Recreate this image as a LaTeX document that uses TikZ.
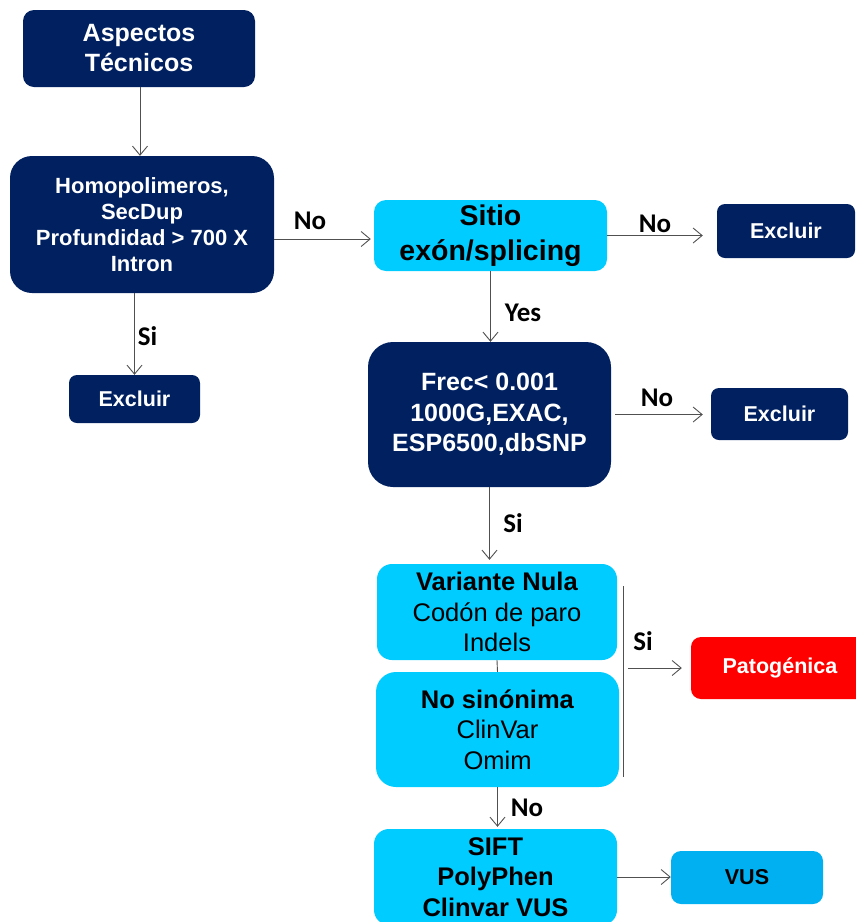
\documentclass[tikz,border=0pt]{standalone}
\usepackage{fontspec}
\setmainfont{Liberation Sans}
\newfontfamily\lblfont{Carlito}
\usetikzlibrary{arrows.meta}
\definecolor{navy}{HTML}{002060}
\definecolor{cyanbox}{HTML}{00CCFF}
\definecolor{vusblue}{HTML}{00B0F0}
\definecolor{redbox}{HTML}{FF0000}
\definecolor{linegray}{HTML}{505050}
\tikzset{
  box/.style={draw=none, inner sep=0pt, align=center, font=\bfseries},
  navybox/.style={box, fill=navy, text=white},
  cyanb/.style={box, fill=cyanbox, text=black},
  arr/.style={draw=linegray, line width=0.9pt, -{Straight Barb[length=9pt,width=15pt,line width=0.9pt]}},
  plain/.style={draw=linegray, line width=0.9pt},
  lbl/.style={inner sep=0pt, font=\lblfont\bfseries\fontsize{27}{30}\selectfont, text=black}
}
\begin{document}
\begin{tikzpicture}[x=1pt,y=-1pt]
\useasboundingbox (0,0) rectangle (856,922);
\begin{scope}
\clip (0,0) rectangle (856,922);
\node[navybox, minimum width=232pt, minimum height=77pt, rounded corners=11pt, font=\bfseries\fontsize{25}{30}\selectfont] (asp) at (139,48.5) {Aspectos\\Técnicos};
\node[navybox, minimum width=264pt, minimum height=137pt, rounded corners=22pt, font=\bfseries\fontsize{22}{26}\selectfont] (homo) at (142,224.5) {Homopolimeros,\\SecDup\\Profundidad > 700 X\\Intron};
\node[cyanb, minimum width=233pt, minimum height=71pt, rounded corners=12pt, font=\bfseries\fontsize{28.5}{34.5}\selectfont] (sitio) at (490.5,235.5) {Sitio\\exón/splicing};
\node[navybox, minimum width=138pt, minimum height=54pt, rounded corners=8pt, font=\bfseries\fontsize{21.5}{24}\selectfont] (ex1) at (786,231) {Excluir};
\node[navybox, minimum width=243pt, minimum height=145pt, rounded corners=25pt, font=\bfseries\fontsize{25}{30.5}\selectfont] (frec) at (489.5,414.5) {Frec< 0.001\\1000G,EXAC,\\ESP6500,dbSNP};
\node[navybox, minimum width=137pt, minimum height=52pt, rounded corners=8pt, font=\bfseries\fontsize{21.5}{24}\selectfont] (ex2) at (779.5,414) {Excluir};
\node[navybox, minimum width=131pt, minimum height=48pt, rounded corners=8pt, font=\bfseries\fontsize{21.5}{24}\selectfont] (ex3) at (134.5,399) {Excluir};
\node[cyanb, minimum width=240pt, minimum height=96pt, rounded corners=15pt, font=\fontsize{25.5}{30.5}\selectfont] (var) at (497,612) {\textbf{Variante Nula}\\Codón de paro\\Indels};
\node[cyanb, minimum width=243pt, minimum height=115pt, rounded corners=20pt, font=\fontsize{25.5}{30.5}\selectfont] (nosin) at (497.5,729.5) {\textbf{No sinónima}\\ClinVar\\Omim};
\node[cyanb, minimum width=243pt, minimum height=96pt, rounded corners=15pt, font=\bfseries\fontsize{25.5}{30.5}\selectfont] (sift) at (495.5,877) {SIFT\\PolyPhen\\Clinvar VUS};
\node[box, fill=redbox, text=white, minimum width=178pt, minimum height=62pt, rounded corners=10pt, font=\bfseries\fontsize{21.5}{24}\selectfont] (pat) at (780,668) {Patogénica};
\node[box, fill=vusblue, text=black, minimum width=152pt, minimum height=53pt, rounded corners=10pt, font=\bfseries\fontsize{21.5}{24}\selectfont] (vus) at (747,877.5) {VUS};
\end{scope}
% connectors
\draw[arr] (asp.south -| 140,0) -- (140,0 |- homo.north);
\draw[arr, shorten >=3pt] ([yshift=-14.5pt]homo.east) -- ([yshift=-14.5pt]homo.east -| sitio.west);
\draw[arr, shorten >=14pt] (sitio.east) -- (sitio.east -| ex1.west);
\draw[arr] (sitio.south) -- (sitio.south |- frec.north);
\draw[arr] (ex3.north |- homo.south) -- (ex3.north);
\draw[arr, shorten <=4pt, shorten >=8pt] (frec.east) -- (frec.east -| ex2.west);
\draw[arr, shorten >=4pt] (frec.south) -- (frec.south |- var.north);
\draw[plain] (var.south) -- (nosin.north);
\coordinate (brt) at (623,586);
\coordinate (brb) at (623,777);
\draw[plain] (brt) -- (brb);
\draw[arr, shorten <=5pt, shorten >=9pt] (brt |- pat.west) -- (pat.west);
\draw[arr, shorten >=2pt] (nosin.south) -- (nosin.south |- sift.north);
\draw[arr] (sift.east) -- (sift.east -| vus.west);
% labels
\node[lbl] (l1) at (310,221) {No};
\node[lbl] (l2) at (655,224) {No};
\node[lbl] (l3) at (523,313) {Yes};
\node[lbl] (l4) at (147.5,336) {Si};
\node[lbl] (l5) at (657,398) {No};
\node[lbl] (l6) at (513,523) {Si};
\node[lbl] (l7) at (643,641) {Si};
\node[lbl] (l8) at (527,808) {No};
\end{tikzpicture}
\end{document}
